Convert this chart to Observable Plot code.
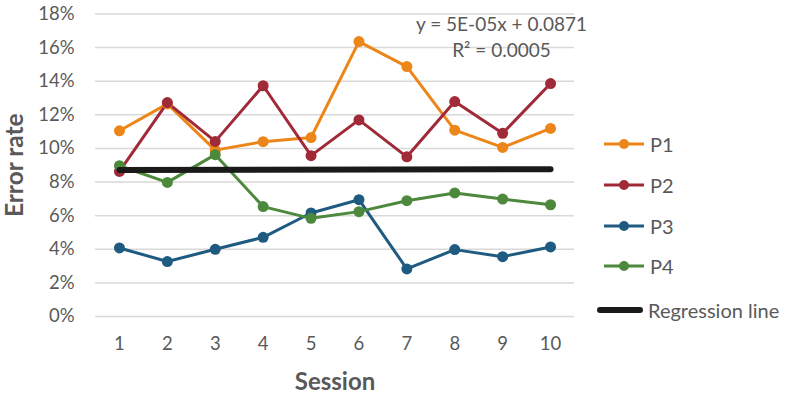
<!DOCTYPE html>
<html><head><meta charset="utf-8">
<script src="https://cdn.jsdelivr.net/npm/d3@7"></script>
<script src="https://cdn.jsdelivr.net/npm/@observablehq/plot@0.6"></script>
<style>
body{margin:0;background:#fff;font-family:Lato,"Open Sans",sans-serif;}
#wrap{position:relative;width:788px;height:397px;}
#legend{position:absolute;left:603px;top:124px;color:#595959;font-size:20px;}
.li{display:flex;align-items:center;height:40.7px;}
.li svg{margin-right:5px;}
</style></head><body>
<div id="wrap"><div id="chart"></div><div id="legend"></div></div>
<script>
const sessions = [1,2,3,4,5,6,7,8,9,10];
const P1 = [0.1105,0.1265,0.0990,0.1040,0.1065,0.1636,0.1487,0.1109,0.1006,0.1119];
const P2 = [0.0863,0.1273,0.1042,0.1373,0.0957,0.1170,0.0950,0.1279,0.1090,0.1386];
const P3 = [0.0408,0.0327,0.0400,0.0471,0.0616,0.0695,0.0283,0.0398,0.0356,0.0414];
const P4 = [0.0897,0.0798,0.0963,0.0654,0.0584,0.0624,0.0689,0.0735,0.0699,0.0665];
const seriesNames = ["P1","P2","P3","P4"];
const seriesColors = ["#ED8619","#A02A37","#1F5B80","#4D893C"];
const regSessions = [1,10];
const regValues = [0.08715,0.0876];
const yTicks = [0,0.02,0.04,0.06,0.08,0.10,0.12,0.14,0.16,0.18];
const eqLines = ["y = 5E-05x + 0.0871","R² = 0.0005"];

const all = [P1,P2,P3,P4];
const rows = [];
all.forEach((arr,i)=>arr.forEach((v,j)=>rows.push({series:seriesNames[i],session:sessions[j],value:v})));
const reg = regSessions.map((s,i)=>({session:s,value:regValues[i]}));
const color = {domain:seriesNames, range:seriesColors};

const chart = Plot.plot({
  width:788, height:397,
  marginLeft:95, marginRight:214, marginTop:13.5, marginBottom:81,
  style:{fontFamily:"Lato, 'Open Sans', sans-serif", color:"#595959", background:"#fff", overflow:"visible"},
  x:{domain:[0.5,10.5]},
  y:{domain:[0,0.18]},
  color,
  marks:[
    Plot.gridY(yTicks,{stroke:"#d9d9d9",strokeOpacity:1,strokeWidth:1.5}),
    Plot.axisY({ticks:yTicks,tickFormat:d=>Math.round(d*100)+"%",tickSize:0,tickPadding:21,fontSize:18.5,label:null}),
    Plot.axisX({ticks:sessions,tickFormat:d=>String(d),tickSize:0,tickPadding:20,fontSize:18.5,label:null}),
    Plot.text(["Error rate"],{frameAnchor:"left",textAnchor:"middle",lineAnchor:"middle",rotate:-90,dx:-80,fontSize:24.5,fontWeight:"bold",fill:"#595959"}),
    Plot.text(["Session"],{frameAnchor:"bottom",textAnchor:"middle",lineAnchor:"middle",dy:66,fontSize:24,fontWeight:"bold",fill:"#595959"}),
    Plot.line(rows,{x:"session",y:"value",stroke:"series",z:"series",strokeWidth:3}),
    Plot.dot(rows,{x:"session",y:"value",fill:"series",r:5.5}),
    Plot.line(reg,{x:"session",y:"value",stroke:"#1a1a1a",strokeWidth:6,strokeLinecap:"round"}),
    Plot.text([eqLines.join("\n")],{frameAnchor:"top-right",dx:-73,dy:-2,lineHeight:1.4,fontSize:19,fill:"#595959",textAnchor:"middle"})
  ]
});
document.getElementById("chart").appendChild(chart);

const lg = document.getElementById("legend");
seriesNames.forEach((n,i)=>{
  const d=document.createElement("div");d.className="li";
  d.innerHTML=`<svg width="42" height="12"><line x1="1" y1="6" x2="41" y2="6" stroke="${seriesColors[i]}" stroke-width="3"/><circle cx="21" cy="6" r="5" fill="${seriesColors[i]}"/></svg>${n}`;
  lg.appendChild(d);
});
const d=document.createElement("div");d.className="li";d.style.marginLeft="-6px";d.style.marginTop="3px";
d.innerHTML=`<svg width="46" height="10"><line x1="3" y1="5" x2="43" y2="5" stroke="#1a1a1a" stroke-width="6" stroke-linecap="round"/></svg>Regression line`;
lg.appendChild(d);
</script></body></html>
